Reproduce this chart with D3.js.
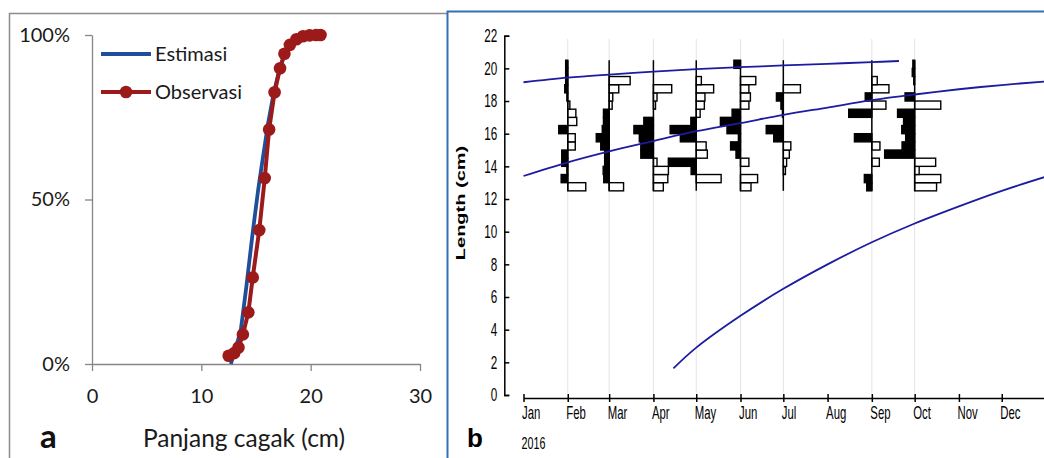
<!DOCTYPE html>
<html>
<head>
<meta charset="utf-8">
<script src="https://cdn.jsdelivr.net/npm/d3@7"></script>
<style>
  html, body { margin: 0; padding: 0; background: #fff; }
  svg { display: block; }
</style>
</head>
<body>
<svg id="chart" width="1044" height="458"></svg>
<script>
// ---- panel a: cumulative length (Panjang cagak) ----
const aLenTicks = [0, 10, 20, 30];
const aPctTicks = [0, 0.5, 1];
const obsLen = [12.5, 13.0, 13.4, 13.8, 14.3, 14.7, 15.3, 15.8, 16.2, 16.7, 17.2, 17.6, 18.1, 18.7, 19.3, 19.9, 20.5, 20.9];
const obsPct = [0.025, 0.033, 0.05, 0.09, 0.157, 0.263, 0.407, 0.565, 0.713, 0.826, 0.899, 0.943, 0.97, 0.987, 0.996, 0.999, 1.0, 1.0];
const estLen = [12.7, 13.6, 14.1, 14.7, 15.2, 15.6, 16.1, 16.6, 17.1, 17.6, 18.2, 19.0, 20.0, 21.0];
const estPct = [0, 0.10, 0.23, 0.40, 0.53, 0.62, 0.73, 0.82, 0.89, 0.94, 0.97, 0.99, 1.0, 1.0];

// ---- panel b: length frequency + growth curves ----
const months = ['Jan', 'Feb', 'Mar', 'Apr', 'May', 'Jun', 'Jul', 'Aug', 'Sep', 'Oct', 'Nov', 'Dec'];
const bLenTicks = [0, 2, 4, 6, 8, 10, 12, 14, 16, 18, 20, 22];
const binLow = [12.5, 13, 13.5, 14, 14.5, 15, 15.5, 16, 16.5, 17, 17.5, 18, 18.5, 19, 19.5, 20];
const binW = 0.5;
const sampleDates = ['2016-02-01', '2016-03-01', '2016-04-01', '2016-05-01', '2016-06-01', '2016-07-01', '2016-09-01', '2016-10-01'];
// restructured scores per bin, bottom (12.5) to top (20.5)
const histFeb = [0.60, -0.22, -0.03, -0.20, -0.20, 0.25, 0.25, -0.30, 0.30, 0.27, 0.07, -0.03, -0.10, -0.07, -0.07, -0.07];
const histMar = [0.48, -0.18, -0.20, -0.15, -0.15, -0.28, -0.43, -0.23, -0.19, -0.19, 0.10, 0.12, 0.32, 0.70, 0, 0];
const histApr = [0.33, 0.48, 0.50, 0.12, -0.42, -0.42, -0.47, -0.65, -0.32, 0, 0.07, 0.12, 0.61, 0, 0, 0];
const histMay = [0, 0.83, -0.17, -0.93, 0.37, 0.33, -0.53, -0.87, -0.18, 0.13, 0.27, 0.29, 0.58, 0.17, 0, 0];
const histJun = [0.35, 0.57, 0, 0.28, -0.15, -0.33, -0.07, -0.45, -0.67, -0.28, 0.28, 0.33, 0.28, 0.51, 0, -0.22];
const histJul = [0, 0, 0.07, 0.11, 0.20, 0.25, -0.32, -0.57, 0, -0.03, -0.08, -0.23, 0.57, 0, 0, 0];
const histSep = [-0.17, -0.25, 0, 0.25, 0, 0.27, -0.58, 0, 0, -0.77, 0.47, -0.22, 0.57, 0.18, 0, 0];
const histOct = [0.73, 0.87, 0.15, 0.70, -1.00, -0.42, -0.30, -0.43, -0.37, -0.57, 0.87, -0.32, 0, -0.03, -0.08, -0.06];
const hists = [histFeb, histMar, histApr, histMay, histJun, histJul, histSep, histOct];

const cohortTop = [['2016-01-01', 19.15], ['2016-02-01', 19.43], ['2016-03-01', 19.62], ['2016-04-01', 19.8], ['2016-05-01', 19.95],
  ['2016-06-01', 20.07], ['2016-07-01', 20.18], ['2016-08-01', 20.28], ['2016-09-01', 20.38], ['2016-09-20', 20.45]];
const cohortMid = [['2016-01-01', 13.41], ['2016-02-01', 14.25], ['2016-03-01', 14.92], ['2016-04-01', 15.55], ['2016-05-01', 16.15],
  ['2016-06-01', 16.65], ['2016-07-01', 17.15], ['2016-08-01', 17.6], ['2016-09-01', 18.05], ['2016-10-01', 18.4],
  ['2016-11-01', 18.72], ['2016-12-01', 18.98], ['2017-01-01', 19.2]];
const cohortLow = [['2016-04-15', 1.63], ['2016-05-01', 2.9], ['2016-06-01', 4.85], ['2016-07-01', 6.5], ['2016-08-01', 8.0],
  ['2016-09-01', 9.35], ['2016-10-01', 10.5], ['2016-11-01', 11.55], ['2016-12-01', 12.5], ['2017-01-01', 13.37]];

const BLUE = '#1f4e9a', RED = '#9c1a1a', CURVE = '#1c1ca0';
const calibri = 'Lato, "Open Sans", sans-serif';
const narrow = '"Liberation Sans", Arial, sans-serif';
const SQ = 0.65; // panel b is squeezed horizontally

const svg = d3.select('#chart');

// ================= panel a =================
svg.append('path').attr('d', 'M9.5,458V13.5H447').attr('fill', 'none')
  .attr('stroke', '#8c8c8c').attr('stroke-width', 1.5);

const xa = d3.scaleLinear().domain([0, 30]).range([92, 420]);
const ya = d3.scaleLinear().domain([0, 1]).range([364, 35]);

const gya = svg.append('g').attr('transform', 'translate(92,0)')
  .call(d3.axisLeft(ya).tickValues(aPctTicks).tickFormat(d3.format('.0%')).tickSize(7).tickSizeOuter(0).tickPadding(15));
const gxa = svg.append('g').attr('transform', 'translate(0,364)')
  .call(d3.axisBottom(xa).tickValues(aLenTicks).tickSize(7).tickSizeOuter(0).tickPadding(18));
[gya, gxa].forEach(g => {
  g.select('.domain').attr('stroke', '#868686').attr('stroke-width', 1.3);
  g.selectAll('.tick line').attr('stroke', '#868686').attr('stroke-width', 1.3);
  g.selectAll('text').attr('font-family', calibri).attr('font-size', 20).attr('fill', '#1a1a1a');
});

const lineA = d3.line().x(d => xa(d[0])).y(d => ya(d[1]));
svg.append('path').datum(d3.zip(estLen, estPct)).attr('d', lineA)
  .attr('fill', 'none').attr('stroke', BLUE).attr('stroke-width', 3.8);
svg.append('path').datum(d3.zip(obsLen, obsPct)).attr('d', lineA)
  .attr('fill', 'none').attr('stroke', RED).attr('stroke-width', 4);
svg.selectAll('circle.obs').data(d3.zip(obsLen, obsPct)).join('circle').attr('class', 'obs')
  .attr('cx', d => xa(d[0])).attr('cy', d => ya(d[1])).attr('r', 6.3).attr('fill', RED);

// legend
[['Estimasi', BLUE, 54, false], ['Observasi', RED, 92, true]].forEach(([lbl, col, ly, mk]) => {
  svg.append('line').attr('x1', 101).attr('x2', 151).attr('y1', ly).attr('y2', ly)
    .attr('stroke', col).attr('stroke-width', 4);
  if (mk) svg.append('circle').attr('cx', 126).attr('cy', ly).attr('r', 6.3).attr('fill', col);
  svg.append('text').attr('x', 155).attr('y', ly + 7).attr('font-family', calibri)
    .attr('font-size', 20).attr('fill', '#1a1a1a').text(lbl);
});

svg.append('text').attr('x', 244).attr('y', 447).attr('text-anchor', 'middle')
  .attr('font-family', calibri).attr('font-size', 24.5).attr('fill', '#1a1a1a').text('Panjang cagak (cm)');
svg.append('text').attr('x', 40).attr('y', 448).attr('font-family', calibri)
  .attr('font-size', 33).attr('font-weight', 700).attr('fill', '#111').text('a');

// ================= panel b =================
svg.append('path').attr('d', 'M447.5,458V11.5H1044').attr('fill', 'none')
  .attr('stroke', '#3470b8').attr('stroke-width', 2);

const parse = d3.timeParse('%Y-%m-%d');
const xb = d3.scaleTime().domain([parse('2016-01-01'), parse('2017-01-01')]).range([523.5, 1046]);
const yb = d3.scaleLinear().domain([0, 22]).range([395, 35.7]);
const bx = d3.scaleLinear().domain([-1, 1]).range([-30, 30]);

// faint grid at sampling dates
svg.selectAll('line.grid').data(sampleDates).join('line').attr('class', 'grid')
  .attr('x1', d => xb(parse(d))).attr('x2', d => xb(parse(d)))
  .attr('y1', yb(21.8)).attr('y2', yb(0.1)).attr('stroke', '#e4e4e4').attr('stroke-width', 1);

// histograms
sampleDates.forEach((ds, i) => {
  const g = svg.append('g').attr('transform', `translate(${xb(parse(ds))},0)`);
  const bars = hists[i].map((v, j) => ({ v, lo: binLow[j] })).filter(d => d.v !== 0);
  g.selectAll('rect').data(bars).join('rect')
    .attr('x', d => Math.min(0, bx(d.v))).attr('width', d => Math.abs(bx(d.v)))
    .attr('y', d => yb(d.lo + binW)).attr('height', d => yb(d.lo) - yb(d.lo + binW))
    .attr('fill', d => d.v < 0 ? '#000' : '#fff').attr('stroke', '#000').attr('stroke-width', 1.4);
  g.append('line').attr('x1', 0).attr('x2', 0)
    .attr('y1', yb(binLow[0])).attr('y2', yb(binLow[binLow.length - 1] + binW))
    .attr('stroke', '#000').attr('stroke-width', 1.5);
});

// growth curves
const lineB = d3.line().curve(d3.curveCatmullRom).x(d => xb(parse(d[0]))).y(d => yb(d[1]));
svg.append('clipPath').attr('id', 'clipb').append('rect').attr('x', 448).attr('y', 12).attr('width', 596).attr('height', 446);
[cohortTop, cohortMid, cohortLow].forEach(c => {
  svg.append('path').datum(c).attr('d', lineB).attr('clip-path', 'url(#clipb)')
    .attr('fill', 'none').attr('stroke', CURVE).attr('stroke-width', 1.8);
});

// y axis (ticks inward)
const gyb = svg.append('g').attr('transform', 'translate(504.3,0)')
  .call(d3.axisLeft(yb).tickValues(bLenTicks).tickSize(-5).tickSizeOuter(-5).tickPadding(7));
gyb.select('.domain').attr('stroke', '#000').attr('stroke-width', 1.5);
gyb.selectAll('.tick line').attr('stroke', '#000').attr('stroke-width', 1.5);
gyb.selectAll('text').attr('font-family', narrow).attr('font-size', 18).attr('fill', '#000')
  .attr('transform', `scale(${SQ},1)`).attr('x', -7 / SQ);

// x axis
const monthDates = months.map((m, i) => new Date(2016, i, 1));
const gxb = svg.append('g').attr('transform', 'translate(0,398)')
  .call(d3.axisBottom(xb).tickValues(monthDates).tickFormat((d, i) => months[i]).tickSize(4).tickSizeOuter(0));
gxb.select('.domain').attr('stroke', '#000').attr('stroke-width', 1.5);
gxb.selectAll('.tick line').attr('stroke', '#000').attr('stroke-width', 1.5).attr('y1', -4);
gxb.selectAll('text').attr('font-family', narrow).attr('font-size', 17.5).attr('fill', '#000')
  .attr('text-anchor', 'start').attr('dy', null).attr('y', 21)
  .attr('transform', `scale(${SQ},1)`).attr('x', -2 / SQ);

svg.append('text').attr('transform', `translate(521.5,449) scale(${SQ},1)`)
  .attr('font-family', narrow).attr('font-size', 16.5).attr('fill', '#000').text('2016');

svg.append('text').attr('transform', `translate(464.5,203) scale(${SQ},1) rotate(-90)`)
  .attr('text-anchor', 'middle').attr('font-family', narrow).attr('font-size', 20)
  .attr('font-weight', 700).attr('fill', '#000').text('Length (cm)');

svg.append('text').attr('x', 467).attr('y', 447).attr('font-family', narrow)
  .attr('font-size', 26).attr('font-weight', 700).attr('fill', '#000').text('b');
</script>
</body>
</html>
